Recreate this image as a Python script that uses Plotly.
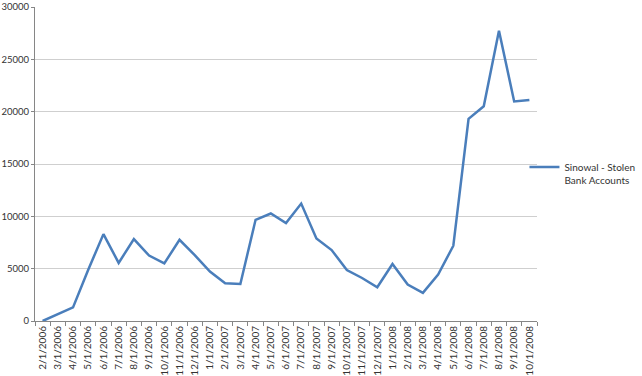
import plotly.graph_objects as go

dates = ["2/1/2006", "3/1/2006", "4/1/2006", "5/1/2006", "6/1/2006", "7/1/2006",
         "8/1/2006", "9/1/2006", "10/1/2006", "11/1/2006", "12/1/2006", "1/1/2007",
         "2/1/2007", "3/1/2007", "4/1/2007", "5/1/2007", "6/1/2007", "7/1/2007",
         "8/1/2007", "9/1/2007", "10/1/2007", "11/1/2007", "12/1/2007", "1/1/2008",
         "2/1/2008", "3/1/2008", "4/1/2008", "5/1/2008", "6/1/2008", "7/1/2008",
         "8/1/2008", "9/1/2008", "10/1/2008"]
stolen_accounts = [0, 650, 1300, 4900, 8300, 5550, 7830, 6250, 5500, 7760, 6300, 4720,
                   3600, 3540, 9670, 10270, 9350, 11220, 7890, 6780, 4870, 4110, 3220, 5450,
                   3480, 2690, 4430, 7190, 19320, 20520, 27730, 20970, 21120]
series_name = "Sinowal - Stolen<br>Bank Accounts"
y_ticks = [0, 5000, 10000, 15000, 20000, 25000, 30000]

fig = go.Figure()
fig.add_trace(go.Scatter(x=dates, y=stolen_accounts, mode="lines", name=series_name,
                         line=dict(color="#4A7EBB", width=2.5), showlegend=True))

fig.update_layout(
    width=642, height=376,
    margin=dict(l=35, r=105, t=7, b=55, autoexpand=False),
    paper_bgcolor="white", plot_bgcolor="white",
    font=dict(family="Lato", size=10, color="#333333"),
    showlegend=True,
    legend=dict(x=0.975, xanchor="left", y=0.47, yanchor="middle", valign="top",
                font=dict(size=10, color="#333333"), itemwidth=30,
                bgcolor="rgba(0,0,0,0)", tracegroupgap=0),
    xaxis=dict(type="category", tickangle=-90, showgrid=False, showline=True,
               linecolor="#868686", linewidth=1, ticks="outside", ticklen=4,
               tickcolor="#868686", tickson="boundaries", range=[-0.5, 32.5],
               tickfont=dict(size=10, color="#333333")),
    yaxis=dict(range=[0, 30000], tickvals=y_ticks, ticktext=[str(v) for v in y_ticks],
               showgrid=True, gridcolor="#CFCFCF", gridwidth=1, showline=True,
               linecolor="#868686", linewidth=1, ticks="outside", ticklen=3,
               tickcolor="#868686", zeroline=False,
               tickfont=dict(size=9.5, color="#333333")),
)

fig.write_html("out.html")
